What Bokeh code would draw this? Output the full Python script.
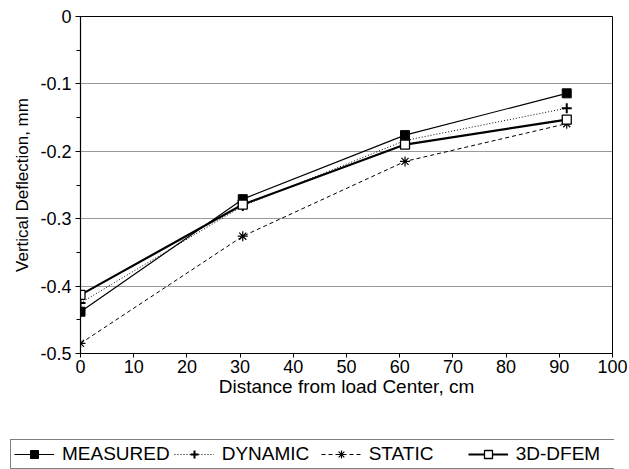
from bokeh.plotting import figure
from bokeh.layouts import column
from bokeh.models import Range1d, FixedTicker, Legend, LegendItem
from bokeh.embed import file_html
from bokeh.resources import INLINE

# Data
distance = [0, 30.5, 61, 91.4]
measured = [-0.438, -0.271, -0.176, -0.114]
dynamic = [-0.425, -0.281, -0.184, -0.136]
static = [-0.485, -0.326, -0.215, -0.159]
dfem = [-0.413, -0.279, -0.190, -0.153]
series_names = ["MEASURED", "DYNAMIC", "STATIC", "3D-DFEM"]

x_ticks = [0, 10, 20, 30, 40, 50, 60, 70, 80, 90, 100]
y_ticks = [0, -0.1, -0.2, -0.3, -0.4, -0.5]
y_tick_labels = ["0", "-0.1", "-0.2", "-0.3", "-0.4", "-0.5"]
y_minor = [-0.05, -0.15, -0.25, -0.35, -0.45]
grid_ticks = [-0.1, -0.2, -0.3, -0.4]

FONT = "Liberation Sans"

p = figure(width=629, height=425, output_backend="svg", toolbar_location=None,
           x_range=Range1d(0, 100), y_range=Range1d(-0.5, 0),
           min_border_left=80, min_border_right=17, min_border_top=16,
           min_border_bottom=72)
p.frame_align = False

p.outline_line_color = "black"
p.outline_line_width = 1
p.background_fill_color = "white"
p.border_fill_color = "white"

# axes
p.xaxis.ticker = FixedTicker(ticks=x_ticks)
p.yaxis.ticker = FixedTicker(ticks=y_ticks, minor_ticks=y_minor)
p.yaxis.major_label_overrides = {t: l for t, l in zip(y_ticks, y_tick_labels)}
for ax in (p.xaxis[0], p.yaxis[0]):
    ax.axis_line_color = "black"
    ax.axis_line_width = 1.2
    ax.major_tick_line_color = "black"
    ax.minor_tick_line_color = "black"
    ax.major_tick_in = 0
    ax.minor_tick_in = 0
    ax.major_label_text_font = FONT
    ax.major_label_text_font_size = "18px"
    ax.major_label_text_color = "black"
    ax.axis_label_text_font = FONT
    ax.axis_label_text_font_style = "normal"
    ax.axis_label_text_color = "black"
p.xaxis.axis_label_text_font_size = "19px"
p.yaxis.axis_label_text_font_size = "17px"
p.xaxis.major_tick_out = 4
p.xaxis.minor_tick_out = 0
p.xaxis.major_label_standoff = 2
p.xaxis.axis_label_standoff = 0
p.yaxis.major_tick_out = 5
p.yaxis.minor_tick_out = 4
p.yaxis.major_label_standoff = 4
p.yaxis.axis_label_standoff = 5
p.xaxis.axis_label = "Distance from load Center, cm"
p.yaxis.axis_label = "Vertical Deflection, mm"

p.xgrid.visible = False
p.ygrid.ticker = FixedTicker(ticks=grid_ticks)
p.ygrid.grid_line_color = "black"
p.ygrid.grid_line_dash = "1 1"
p.ygrid.grid_line_width = 1
p.ygrid.grid_line_alpha = 0.8

# series styles
styles = [
    dict(line=dict(line_color="black", line_width=1.2),
         marker=dict(marker="square", size=9, fill_color="black", line_color="black")),
    dict(line=dict(line_color="black", line_width=1, line_dash="1 2"),
         marker=dict(marker="cross", size=10, line_color="black", line_width=2)),
    dict(line=dict(line_color="black", line_width=1, line_dash="4 3"),
         marker=dict(marker="asterisk", size=10, line_color="black", line_width=1.2)),
    dict(line=dict(line_color="black", line_width=2.2),
         marker=dict(marker="square", size=9, fill_color="white", line_color="black",
                     line_width=1.3)),
]
all_series = [measured, dynamic, static, dfem]

for vals, st in zip(all_series, styles):
    p.line(distance, vals, **st["line"])
    p.scatter(distance, vals, **st["marker"])

# legend strip below the chart: same series, but its ranges keep them out of view,
# so only the legend keys are drawn there
p2 = figure(width=629, height=44, output_backend="svg", toolbar_location=None,
            x_range=Range1d(200, 300), y_range=Range1d(5, 6),
            x_axis_location=None, y_axis_location=None,
            min_border=0, min_border_left=0, min_border_right=15,
            min_border_top=0, min_border_bottom=0)
p2.frame_align = False
p2.grid.visible = False
p2.outline_line_color = None
p2.background_fill_color = "white"
p2.border_fill_color = "white"

items = []
for name, vals, st in zip(series_names, all_series, styles):
    lr = p2.line(distance, vals, **st["line"])
    mk = dict(st["marker"])
    mk["size"] = 8
    mr = p2.scatter(distance, vals, **mk)
    items.append(LegendItem(label=name, renderers=[lr, mr]))

legend = Legend(items=items, orientation="horizontal", location=(10, 0))
legend.label_text_font = FONT
legend.label_text_font_size = "19px"
legend.label_text_color = "black"
legend.glyph_width = 40
legend.glyph_height = 20
legend.label_standoff = 8
legend.label_width = 95
legend.label_height = 20
legend.spacing = 4
legend.padding = 3
legend.margin = 0
legend.border_line_color = "black"
legend.border_line_width = 1
legend.background_fill_color = "white"
legend.background_fill_alpha = 1
p2.add_layout(legend, "center")

layout = column(p, p2, spacing=0)
open("out.html", "w").write(file_html(layout, INLINE))
